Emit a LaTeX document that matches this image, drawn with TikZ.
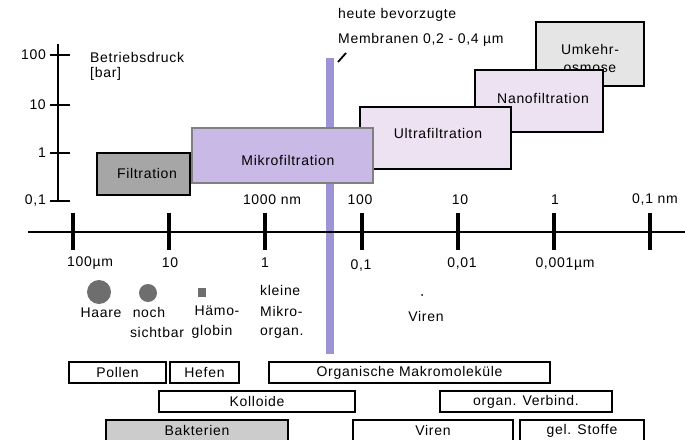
\documentclass[tikz,border=0pt]{standalone}
\usepackage{fontspec}
\setmainfont{Liberation Sans}[LetterSpace=5]
\begin{document}
\begin{tikzpicture}[x=1pt,y=-1pt,
  every node/.style={font=\fontsize{14}{18}\selectfont, inner sep=0pt},
  fbox/.style={draw=black, line width=2pt, minimum width=#1},
  lbox/.style={draw=black, line width=1.6pt, minimum height=21pt, minimum width=#1},
  axis/.style={line width=1.5pt},
  tick/.style={line width=3.5pt},
  dotc/.style={fill=black!57, draw=none}]
\definecolor{paleviolet}{RGB}{236,226,242}
\definecolor{mikrocol}{RGB}{201,185,230}
\definecolor{barcol}{RGB}{156,148,214}
\useasboundingbox (0,0) rectangle (685,439);
\clip (0,0) rectangle (685,439);
% y axis
\coordinate (ytop) at (58,44);
\coordinate (ybot) at (58,201);
\draw[axis] (ytop) -- (ybot);
\foreach \yy/\lab/\nm in {55/100/a,105/10/b,153/1/c,201/{0,1}/d}{
  \coordinate (tl\nm) at (50,\yy);
  \coordinate (tr\nm) at (70,\yy);
  \draw[axis] (tl\nm) -- (tr\nm);
  \node[anchor=east] (yl\nm) at (46,\yy) {\lab};
}
\node[anchor=west] (bd1) at (90,57) {Betriebsdruck};
\node[anchor=west] (bd2) at (90,74) {[bar]};
% filtration boxes
\node[fbox=108pt, minimum height=64pt, fill=black!10] (umk) at (590,54) {};
\node[align=center] (umkt) at (590,58) {Umkehr-\\osmose};
\node[fbox=128pt, minimum height=62pt, fill=paleviolet] (nano) at (539,101) {};
\node (nanot) at (543,98) {Nanofiltration};
\node[fbox=151pt, minimum height=62pt, fill=paleviolet] (ultra) at (435.5,138) {};
\node (ultrat) at (438,133) {Ultrafiltration};
\node[fill=barcol, minimum width=8pt, minimum height=296pt] (bar) at (330,206) {};
\node[draw=black!50, line width=1.5pt, fill=mikrocol, minimum width=181pt, minimum height=55pt] (mikro) at (282.5,155.5) {};
\node (mikrot) at (288,160) {Mikrofiltration};
\node[fbox=93pt, minimum height=42pt, fill=black!35] (filt) at (143.5,174) {};
\node (filtt) at (147,173) {Filtration};
% annotation
\node[anchor=west] (ann1) at (338,15) {heute bevorzugte};
\node[anchor=west] (ann2) at (338,40) {Membranen 0,2 - 0,4 µm};
\coordinate (s1) at (338,62);
\coordinate (s2) at (346,53);
\draw[line width=1.8pt] (s1) -- (s2);
% top scale labels
\node (t1) at (272,200) {1000 nm};
\node (t2) at (360,200) {100};
\node (t3) at (460,200) {10};
\node (t4) at (555,200) {1};
\node (t5) at (655,200) {0,1 nm};
% x axis
\coordinate (xl) at (28,232);
\coordinate (xr) at (685,232);
\draw[axis] (xl) -- (xr);
\foreach \xx/\nm in {73/a,169/b,265/c,362/d,458/e,554/f,650/g}{
  \coordinate (xt\nm) at (\xx,213);
  \coordinate (xb\nm) at (\xx,250);
  \draw[tick] (xt\nm) -- (xb\nm);
}
\node (b1) at (90,263) {100µm};
\node (b2) at (170,263) {10};
\node (b3) at (265,263) {1};
\node (b4) at (361,266) {0,1};
\node (b5) at (462,264) {0,01};
\node (b6) at (565,264) {0,001µm};
% particles
\node[dotc, circle, minimum size=24pt] (haar) at (99,292) {};
\node (haart) at (101,313) {Haare};
\node[dotc, circle, minimum size=18pt] (noch) at (148,293) {};
\node (noch1) at (149,312) {noch};
\node (noch2) at (157,332) {sichtbar};
\node[dotc, minimum width=8pt, minimum height=9pt] (haem) at (202,292) {};
\node (haem1) at (217,311) {Hämo-};
\node (haem2) at (212,332) {globin};
\node[anchor=west] (kl1) at (260,290) {kleine};
\node[anchor=west] (kl2) at (260,311) {Mikro-};
\node[anchor=west] (kl3) at (260,333) {organ.};
\node[fill=black, circle, minimum size=2pt] (virdot) at (422,295) {};
\node (virt) at (426,316) {Viren};
% bottom boxes
\node[lbox=97pt] (pollen) at (117.5,372.5) {Pollen};
\node[lbox=69pt] (hefen) at (204.5,372.5) {Hefen};
\node[lbox=281pt] (orgm) at (409.5,372.5) {Organische Makromoleküle};
\node[lbox=196pt] (koll) at (257,401.5) {Kolloide};
\node[lbox=172pt] (orgv) at (526,401.5) {organ. Verbind.};
\node[lbox=182pt, fill=black!20] (bakt) at (197,430.5) {Bakterien};
\node[lbox=160pt] (viren) at (433,430.5) {Viren};
\node[lbox=124pt] (gel) at (582,430.5) {gel. Stoffe};
\end{tikzpicture}
\end{document}
